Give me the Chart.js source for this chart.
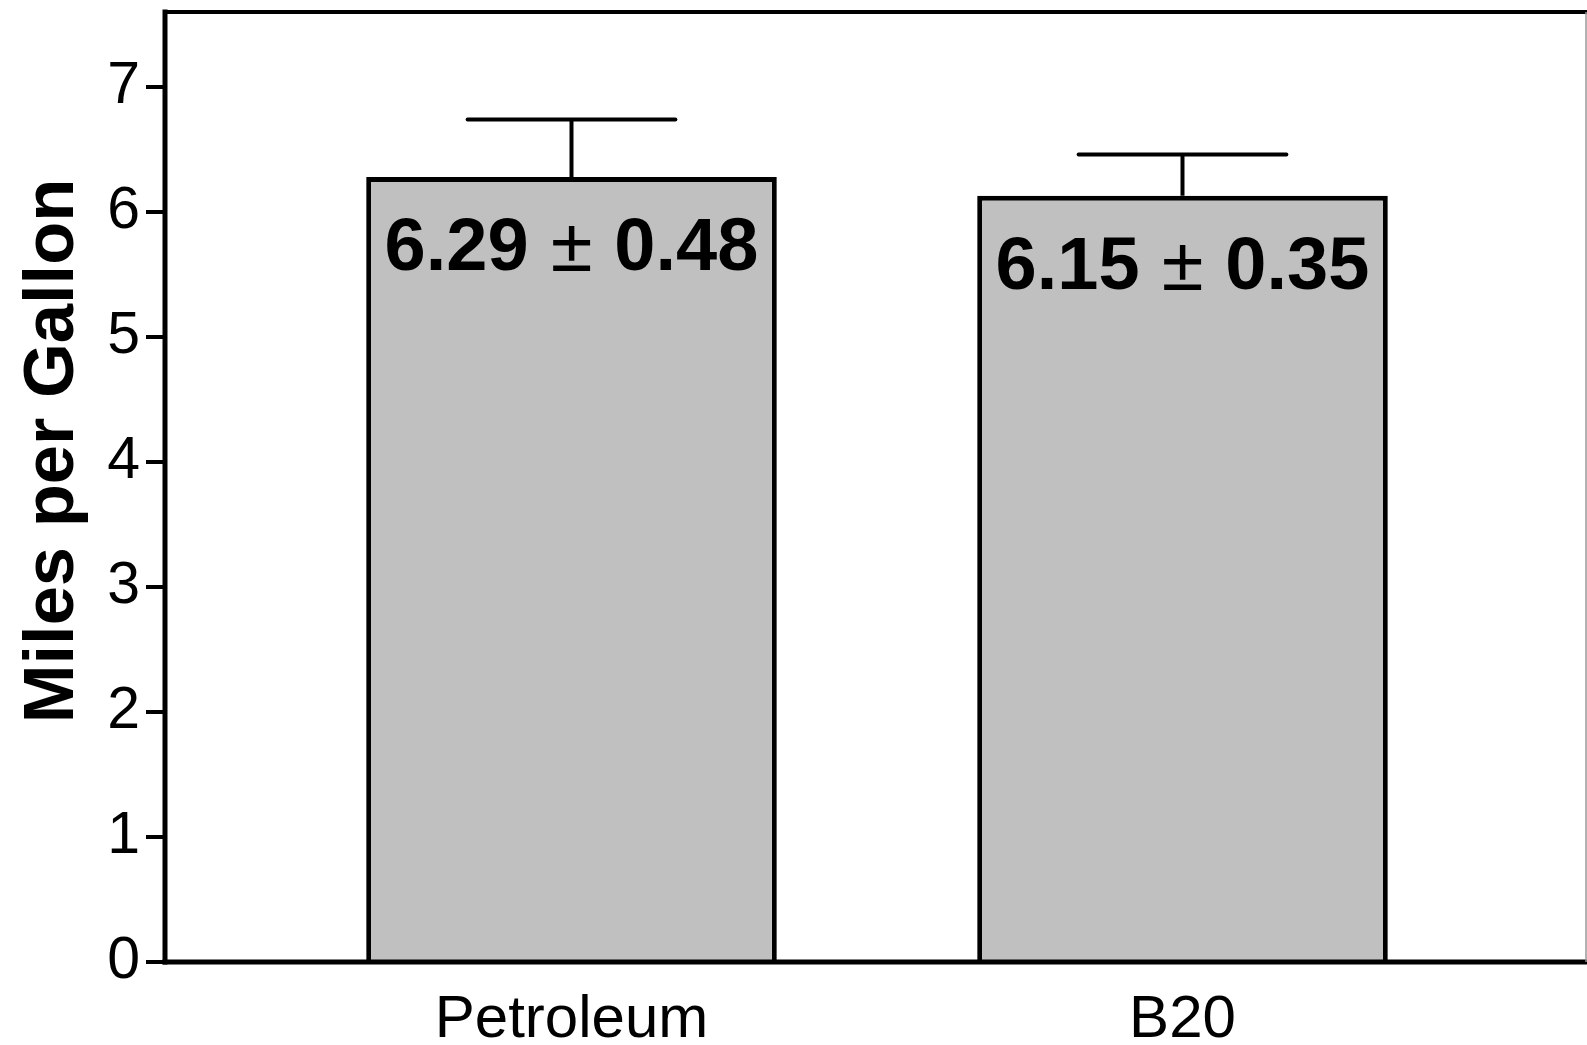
<!DOCTYPE html>
<html><head><meta charset="utf-8">
<script src="https://cdn.jsdelivr.net/npm/chart.js@4/dist/chart.umd.min.js"></script>
<style>html,body{margin:0;padding:0;background:#fff;overflow:hidden}</style>
</head><body>
<canvas id="c" width="1587" height="1045"></canvas>
<script>
const categories = ['Petroleum', 'B20'];
const means = [6.28, 6.13];
const errors = [0.46, 0.33];
const barLabels = ['6.29 \u00b1 0.48', '6.15 \u00b1 0.35'];
const yTicks = [0, 1, 2, 3, 4, 5, 6, 7];
const yTitle = 'Miles per Gallon';
const FONT = '"Liberation Sans", Arial, Helvetica, sans-serif';

const errorBars = {
  id: 'errorBars',
  afterDatasetsDraw(chart) {
    const ctx = chart.ctx, xs = chart.scales.x, ys = chart.scales.y;
    const meta = chart.getDatasetMeta(0);
    const half = xs.getPixelForValue(0.17) - xs.getPixelForValue(0);
    ctx.save();
    ctx.strokeStyle = '#000';
    meta.data.forEach((bar, i) => {
      const cx = bar.x;
      const top = ys.getPixelForValue(means[i]);
      const et = ys.getPixelForValue(means[i] + errors[i]);
      ctx.lineWidth = 4; ctx.lineCap = 'butt';
      ctx.beginPath(); ctx.moveTo(cx, top); ctx.lineTo(cx, et); ctx.stroke();
      ctx.lineCap = 'round';
      ctx.beginPath(); ctx.moveTo(cx - half, et); ctx.lineTo(cx + half, et); ctx.stroke();
      // label: bold numbers, thin plus-minus sign
      const parts = barLabels[i].split('\u00b1').map(s => s.trim());
      const bold = 'bold 74px ' + FONT, thin = '300 76px ' + FONT;
      ctx.fillStyle = '#000';
      ctx.textBaseline = 'middle'; ctx.textAlign = 'left';
      ctx.font = bold;
      const w1 = ctx.measureText(parts[0]).width, w3 = ctx.measureText(parts[1]).width;
      ctx.font = thin;
      const wpm = ctx.measureText('\u00b1').width;
      const gap = 22;
      const total = w1 + gap + wpm + gap + w3;
      let x0 = cx - total / 2;
      const ty = top + 73;
      ctx.font = bold; ctx.fillText(parts[0], x0, ty);
      x0 += w1 + gap;
      ctx.font = thin; ctx.fillText('\u00b1', x0, ty);
      x0 += wpm + gap;
      ctx.font = bold; ctx.fillText(parts[1], x0, ty);
    });
    ctx.restore();
  }
};

const frame = {
  id: 'frame',
  afterDraw(chart) {
    const ctx = chart.ctx, a = chart.chartArea;
    ctx.save();
    ctx.strokeStyle = '#000';
    ctx.lineCap = 'square';
    ctx.lineWidth = 5;
    ctx.beginPath(); ctx.moveTo(a.left, a.top); ctx.lineTo(a.left, a.bottom); ctx.stroke();
    ctx.beginPath(); ctx.moveTo(a.left, a.bottom); ctx.lineTo(chart.width + 5, a.bottom); ctx.stroke();
    ctx.lineWidth = 4;
    ctx.beginPath(); ctx.moveTo(a.left, a.top); ctx.lineTo(chart.width + 5, a.top); ctx.stroke();
    ctx.strokeStyle = '#999'; ctx.lineWidth = 1.5; ctx.lineCap = 'butt';
    ctx.beginPath(); ctx.moveTo(a.right, a.top); ctx.lineTo(a.right, a.bottom); ctx.stroke();
    // y title
    ctx.fillStyle = '#000';
    ctx.font = 'bold 70.5px ' + FONT;
    ctx.textAlign = 'center'; ctx.textBaseline = 'alphabetic';
    ctx.translate(73, (a.top + a.bottom) / 2 - 36);
    ctx.rotate(-Math.PI / 2);
    ctx.fillText(yTitle, 0, 0);
    ctx.restore();
  }
};

new Chart(document.getElementById('c'), {
  type: 'bar',
  data: {
    datasets: [{
      data: categories.map((c, i) => ({ x: i, y: means[i] })),
      backgroundColor: '#c0c0c0',
      borderColor: '#000',
      borderWidth: 5,
      borderSkipped: 'start',
      barPercentage: 0.672,
      categoryPercentage: 1.0
    }]
  },
  options: {
    responsive: false,
    maintainAspectRatio: false,
    devicePixelRatio: 1,
    animation: false,
    layout: { padding: { top: 12, right: 1, left: 0, bottom: 0 } },
    plugins: { legend: { display: false }, tooltip: { enabled: false } },
    scales: {
      x: {
        type: 'linear',
        min: -0.6653,
        max: 1.6604,
        offset: false,
        afterBuildTicks: (s) => { s.ticks = categories.map((c, i) => ({ value: i })); },
        afterFit: (s) => { s.height = 83; s.paddingLeft = 0; s.paddingRight = 0; },
        grid: { display: false, drawTicks: false },
        border: { display: false },
        ticks: {
          callback: (v) => categories[v],
          color: '#000',
          font: { family: FONT, size: 60 },
          padding: 22,
          maxRotation: 0
        }
      },
      y: {
        min: 0,
        max: 7.6,
        afterBuildTicks: (s) => { s.ticks = yTicks.map(v => ({ value: v })); },
        afterFit: (s) => { s.width = 165; s.paddingTop = 0; s.paddingBottom = 0; },
        grid: { display: true, drawOnChartArea: false, drawTicks: true, tickLength: 19, lineWidth: 4, color: '#000' },
        border: { display: false },
        ticks: {
          color: '#000',
          font: { family: FONT, size: 59 },
          padding: 6
        }
      }
    }
  },
  plugins: [errorBars, frame]
});
</script>
</body></html>
